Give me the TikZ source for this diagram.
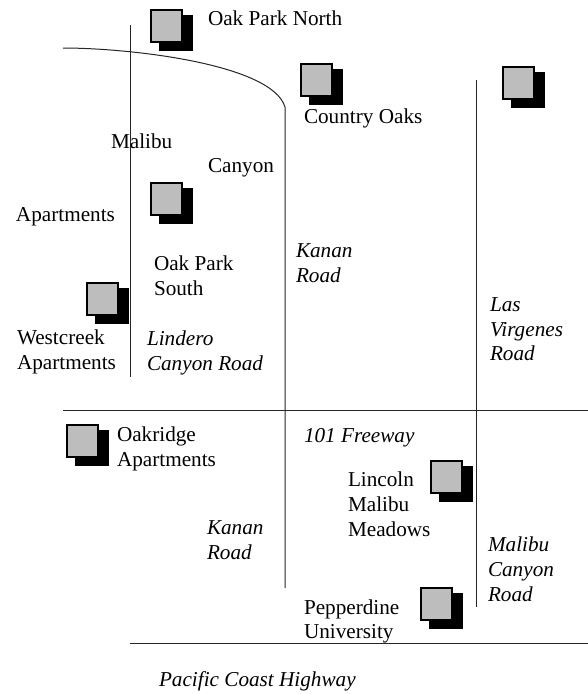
\documentclass[tikz,border=0pt]{standalone}
\usepackage{fontspec}
\setmainfont{Liberation Serif}
\tikzset{
  x=1pt,y=-1pt,
  road/.style={draw=black!85,line width=1pt},
  lbl/.style={anchor=base west,inner sep=0pt,outer sep=0pt,font=\fontsize{21.2}{25}\selectfont},
  ilbl/.style={lbl,font=\fontsize{21.2}{25}\selectfont\itshape},
  roof/.style={fill=black,draw=none},
  bldg/.style={fill=black!26,draw=black,line width=1.6pt}
}
\newcommand{\bld}[2]{%
  \fill[roof] (#1+9,#2+6) rectangle (#1+43,#2+42);
  \draw[bldg] (#1+1,#2+1) rectangle (#1+32,#2+33);
}
\begin{document}
\begin{tikzpicture}
\useasboundingbox (0,0) rectangle (588,694);
\fill[white] (0,0) rectangle (588,694);
\draw[road] (130,25) -- (130,377);
\draw[road] (63,48) .. controls (130,48) and (272,64) .. (285,107) -- (285,588);
\draw[road] (476,80) -- (476,607);
\draw[road] (63,410) -- (588,410);
\draw[road] (130,643) -- (588,643);
\bld{150}{9}
\bld{150}{182}
\bld{300}{63}
\bld{502}{66}
\bld{86}{282}
\bld{66}{424}
\bld{430}{460}
\bld{420}{587}
\node[lbl] (a) at (208,25) {Oak Park North};
\node[lbl] (b) at (304,123) {Country Oaks};
\node[lbl] (c) at (111,148) {Malibu};
\node[lbl] (d) at (208,172) {Canyon};
\node[lbl] (e) at (16,221) {Apartments};
\node[lbl] (f) at (154,270) {Oak Park};
\node[lbl] (g) at (154,295) {South};
\node[lbl] (h) at (17,344) {Westcreek};
\node[lbl] (i) at (17,369) {Apartments};
\node[lbl] (j) at (117,441) {Oakridge};
\node[lbl] (k) at (117,466) {Apartments};
\node[lbl] (l) at (348,486) {Lincoln};
\node[lbl] (m) at (348,511) {Malibu};
\node[lbl] (n) at (348,536) {Meadows};
\node[lbl] (o) at (304,614) {Pepperdine};
\node[lbl] (p) at (304,638) {University};
\node[ilbl] (q) at (296,257) {Kanan};
\node[ilbl] (r) at (296,282) {Road};
\node[ilbl] (s) at (490,311) {Las};
\node[ilbl] (t) at (490,336) {Virgenes};
\node[ilbl] (u) at (490,360) {Road};
\node[ilbl] (v) at (147,345) {Lindero};
\node[ilbl] (w) at (147,370) {Canyon Road};
\node[ilbl] (x) at (304,442) {101 Freeway};
\node[ilbl] (y) at (207,534) {Kanan};
\node[ilbl] (z) at (207,559) {Road};
\node[ilbl] (aa) at (488,551) {Malibu};
\node[ilbl] (ab) at (488,576) {Canyon};
\node[ilbl] (ac) at (488,601) {Road};
\node[ilbl] (ad) at (159,686) {Pacific Coast Highway};
\end{tikzpicture}
\end{document}
